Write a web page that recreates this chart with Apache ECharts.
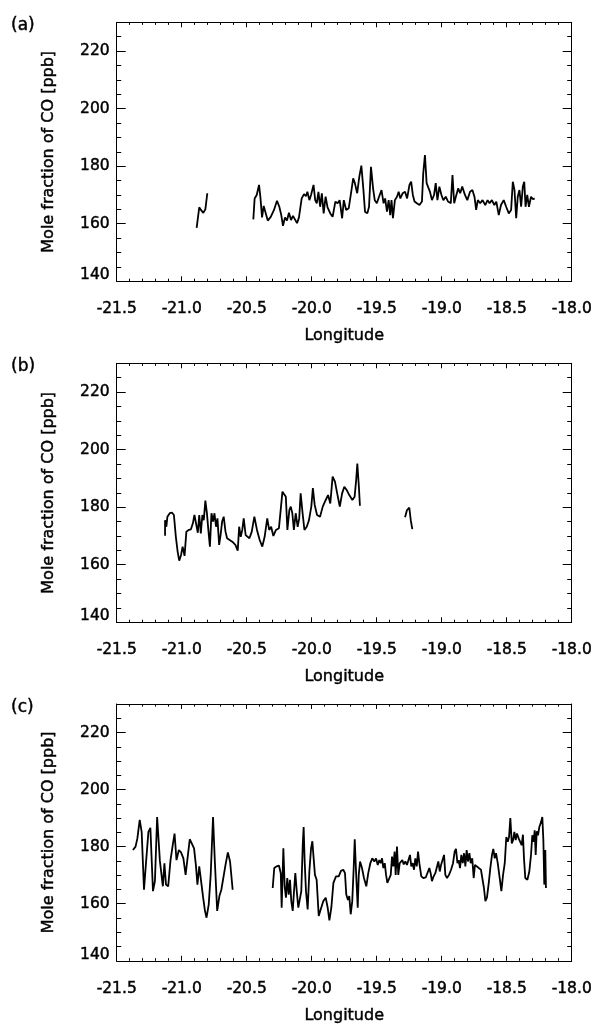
<!DOCTYPE html>
<html>
<head>
<meta charset="utf-8">
<script src="https://cdn.jsdelivr.net/npm/echarts@6/dist/echarts.min.js"></script>
<style>
html,body{margin:0;padding:0;background:#fff;}
#chart{width:595px;height:1025px;}
</style>
</head>
<body>
<div id="chart"></div>
<script>
// ---- data (longitude, CO mole fraction in ppb); null = gap in the record ----
const panelLabels = ['(a)', '(b)', '(c)'];
const xMin = -21.5, xMax = -18.0, xStep = 0.5;
const yMin = 140, yMax = 230, yStep = 20, yMinorStep = 5;
const xTitle = 'Longitude';
const yTitle = 'Mole fraction of CO [ppb]';

const lonA = [-20.885,-20.865,-20.852,-20.834,-20.818,-20.803, -20.60,
 -20.449,-20.439,-20.423,-20.405,-20.395,-20.382,-20.369,-20.357,-20.338,-20.315,-20.290,-20.267,-20.249,-20.234,-20.221,-20.205,-20.190,-20.175,-20.159,-20.144,-20.129,-20.113,-20.098,
 -20.090,-20.077,-20.059,-20.044,-20.033,-20.018,-20.005,-19.986,-19.973,-19.961,-19.948,-19.935,-19.922,-19.908,-19.893,-19.878,-19.857,-19.839,-19.818,-19.801,-19.785,-19.766,-19.753,-19.735,-19.715,-19.696,-19.681,-19.668,-19.650,-19.634,-19.618,-19.603,-19.590,-19.572,-19.559,-19.544,-19.528,-19.515,-19.499,-19.482,-19.463,-19.447,-19.435,-19.421,-19.408,-19.396,-19.386,-19.375,-19.360,-19.344,-19.331,-19.318,-19.300,-19.282,-19.266,-19.248,-19.235,-19.222,-19.209,-19.191,-19.171,-19.152,-19.142,-19.129,-19.116,-19.103,-19.090,-19.075,-19.059,-19.046,-19.033,-19.018,-19.002,-18.987,-18.969,-18.951,-18.930,-18.917,-18.904,-18.891,-18.873,-18.858,-18.842,-18.821,-18.803,-18.782,-18.764,-18.748,-18.735,-18.722,-18.704,-18.686,-18.665,-18.647,-18.632,-18.614,-18.595,-18.580,-18.561,-18.544,-18.523,-18.504,-18.484,-18.466,-18.453,-18.440,-18.427,-18.415,-18.402,-18.389,-18.376,-18.365,-18.355,-18.342,-18.329,-18.313,-18.298,-18.285];
const coA = [158.6,165.7,164.8,163.8,165.0,170.6, null,
 161.5,168.8,170.0,173.5,169.4,162.2,166.2,164.2,161.1,162.4,164.8,168.0,165.9,163.0,159.3,162.2,161.1,163.8,161.3,162.7,161.5,160.2,162.2,
 162.4,168.8,170.3,169.6,171.1,168.2,170.0,173.5,168.2,167.1,171.1,165.9,170.6,163.6,169.4,165.7,163.6,162.4,167.7,167.1,168.2,161.9,168.2,164.8,165.4,171.1,175.8,174.1,170.6,176.3,180.2,172.3,164.2,163.6,165.9,179.8,172.3,168.2,167.1,169.4,171.7,167.1,168.8,164.2,168.2,163.0,168.2,161.9,168.2,169.4,171.1,168.8,170.6,171.1,168.8,173.5,174.6,170.0,167.7,167.1,166.5,167.7,177.5,183.9,174.1,174.6,171.1,168.2,170.0,174.1,168.2,172.9,170.0,168.2,169.4,167.7,167.1,176.9,167.1,169.4,172.3,170.6,172.9,170.0,168.2,171.1,171.7,169.4,164.8,168.2,167.1,168.2,166.5,168.2,167.1,168.2,166.5,167.7,163.0,166.5,168.2,165.9,163.6,164.8,174.6,171.7,161.9,169.4,171.7,165.9,172.9,174.6,165.9,170.0,165.9,169.4,168.5,168.8];

const lonB = [-21.128,-21.128,-21.118,-21.110,-21.092,-21.075,-21.060,-21.045,-21.031,-21.019,-21.005,-20.993,-20.978,-20.964,-20.946,-20.929,-20.914,-20.902,-20.888,-20.876,-20.865,-20.853,-20.841,-20.830,-20.818,-20.806,-20.795,-20.783,-20.771,-20.759,-20.748,-20.736,-20.725,-20.712,-20.701,-20.689,-20.677,-20.663,-20.651,-20.631,-20.611,-20.587,-20.569,-20.558,-20.546,-20.534,-20.523,-20.508,-20.494,-20.479,-20.461,-20.441,-20.421,-20.400,-20.380,-20.362,-20.342,-20.327,-20.312,-20.295,-20.275,-20.252,-20.237,-20.225,-20.210,-20.199,-20.187,-20.172,-20.161,-20.149,-20.137,-20.123,-20.108,-20.096,-20.085,-20.070,-20.056,-20.038,-20.021,-20.003,-19.991,-19.977,-19.959,-19.936,-19.915,-19.892,-19.874,-19.857,-19.839,-19.821,-19.804,-19.784,-19.766,-19.749,-19.731,-19.711,-19.687,-19.670,-19.658,-19.649,-19.637,-19.629, -19.45,
 -19.282,-19.267,-19.249,-19.238,-19.226];
const coB = [170.1,175.5,173.2,176.7,177.9,178.1,177.3,169.7,164.5,161.4,163.4,166.3,163.1,171.5,172.1,172.3,174.4,177.3,176.7,171.1,177.3,170.9,177.3,175.5,182.3,177.9,172.1,166.3,177.9,175.0,177.9,173.2,176.1,166.9,170.3,175.0,176.7,171.5,169.2,168.6,168.0,166.9,164.9,173.2,169.7,172.1,176.1,170.3,170.9,169.2,171.5,176.7,172.1,168.6,166.3,169.7,176.1,172.1,173.2,170.0,172.1,172.7,172.7,185.4,185.7,183.6,172.1,179.0,180.2,177.9,172.1,177.9,173.2,176.1,184.8,177.9,172.1,173.2,175.5,180.2,186.6,180.8,177.3,176.7,180.2,182.5,184.2,181.3,190.6,188.9,184.8,180.2,184.8,187.1,186.0,184.2,182.5,183.6,189.4,195.2,187.1,180.5, null,
 176.5,179.0,179.8,175.5,172.4];

const lonC = [-21.375,-21.355,-21.341,-21.323,-21.308,-21.290,-21.273,-21.256,-21.241,-21.221,-21.206,-21.189,-21.177,-21.168,-21.156,-21.145,-21.133,-21.121,-21.104,-21.086,-21.069,-21.055,-21.040,-21.022,-21.005,-20.987,-20.970,-20.952,-20.938,-20.923,-20.905,-20.891,-20.879,-20.865,-20.850,-20.835,-20.821,-20.809,-20.792,-20.777,-20.759,-20.745,-20.727,-20.710,-20.695,-20.681,-20.663,-20.645,-20.628,-20.608, -20.45,
 -20.300,-20.288,-20.269,-20.252,-20.238,-20.231,-20.218,-20.208,-20.198,-20.188,-20.177,-20.167,-20.157,-20.146,-20.136,-20.126,-20.115,-20.103,-20.090,-20.080,-20.069,-20.062,-20.054,-20.044,-20.031,-20.018,-20.005,-19.995,-19.985,-19.975,-19.962,-19.946,-19.931,-19.911,-19.892,-19.877,-19.864,-19.849,-19.833,-19.813,-19.792,-19.775,-19.757,-19.744,-19.734,-19.721,-19.711,-19.700,-19.688,-19.677,-19.669,-19.659,-19.646,-19.638,-19.628,-19.613,-19.598,-19.580,-19.565,-19.549,-19.534,-19.518,-19.505,-19.492,-19.480,-19.469,-19.459,-19.449,-19.438,-19.428,-19.418,-19.405,-19.392,-19.382,-19.372,-19.362,-19.354,-19.344,-19.334,-19.323,-19.313,-19.303,-19.292,-19.280,-19.267,-19.256,-19.244,-19.234,-19.223,-19.213,-19.203,-19.192,-19.182,-19.172,-19.157,-19.141,-19.123,-19.108,-19.095,-19.085,-19.075,-19.062,-19.049,-19.038,-19.026,-19.015,-19.005,-18.992,-18.982,-18.972,-18.959,-18.944,-18.928,-18.913,-18.900,-18.890,-18.879,-18.869,-18.859,-18.849,-18.838,-18.828,-18.818,-18.808,-18.798,-18.787,-18.777,-18.765,-18.754,-18.744,-18.731,-18.715,-18.698,-18.685,-18.675,-18.664,-18.652,-18.638,-18.626,-18.613,-18.603,-18.592,-18.582,-18.569,-18.557,-18.541,-18.528,-18.515,-18.503,-18.492,-18.482,-18.472,-18.461,-18.451,-18.441,-18.431,-18.421,-18.408,-18.398,-18.385,-18.375,-18.367,-18.357,-18.341,-18.326,-18.313,-18.303,-18.292,-18.285,-18.277,-18.269,-18.259,-18.249,-18.236,-18.226,-18.218,-18.211,-18.203,-18.198];
const coC = [178.8,180.0,182.9,189.4,185.2,164.9,175.3,185.2,186.6,164.4,167.9,190.4,181.7,175.1,175.3,166.1,174.2,166.7,166.1,175.3,180.5,184.6,175.3,178.8,178.0,175.9,170.1,177.1,182.6,182.3,179.4,173.6,166.7,173.1,173.6,162.1,157.5,155.1,159.8,170.1,190.4,174.8,157.5,162.7,164.9,164.4,173.6,178.0,174.8,164.9, null,
 165.5,172.5,173.1,173.4,170.7,158.6,179.4,166.1,162.1,169.0,163.2,168.4,160.9,157.5,164.4,170.7,164.4,158.6,159.2,164.4,180.5,186.9,174.8,164.4,158.0,171.3,179.4,181.9,175.9,170.1,168.4,155.7,158.0,160.9,162.1,158.6,154.2,158.6,167.3,169.6,169.6,171.5,171.9,170.7,163.2,161.3,162.7,156.3,160.9,172.5,182.6,171.3,158.6,170.1,174.8,172.5,169.0,166.1,170.7,174.2,175.9,174.8,175.9,173.6,175.3,174.2,175.9,172.5,174.2,170.1,167.3,167.9,170.1,176.5,173.1,178.3,170.1,180.0,170.1,174.2,173.6,175.3,173.8,174.8,173.6,174.2,177.1,173.1,174.2,171.9,175.9,173.1,178.3,174.2,169.6,169.0,169.2,169.6,172.5,170.7,167.9,169.6,170.7,170.1,174.8,171.3,173.6,173.1,177.1,170.1,169.0,170.1,171.9,174.2,178.3,179.2,174.2,175.3,172.5,177.1,174.2,177.7,173.1,178.8,174.8,177.7,174.2,175.9,169.0,173.6,173.1,172.5,171.9,171.3,165.5,160.9,162.1,167.3,172.5,177.1,179.2,175.9,177.7,174.2,170.1,164.4,170.1,174.2,183.4,181.7,183.4,190.0,181.1,182.3,185.2,182.3,184.6,182.9,182.3,180.5,184.2,175.9,169.0,168.4,171.3,177.1,184.0,181.7,185.7,177.1,185.4,184.0,186.9,188.6,190.4,182.3,166.7,178.8,165.5];

const panels = [[lonA, coA], [lonB, coB], [lonC, coC]];

// ---- layout ----
const FONT = 'DejaVu Sans';
const gridLeft = 116.7, gridWidth = 455, gridHeight = 259;
const gridTops = [22.3, 363.3, 704];

const grids = [], xAxes = [], yAxes = [], series = [], titles = [];
const black = '#000';
const heavy = {textBorderColor: black, textBorderWidth: 0.45};

gridTops.forEach((top, i) => {
  grids.push({left: gridLeft, top: top, width: gridWidth, height: gridHeight, containLabel: false});
  titles.push({text: panelLabels[i], left: 11, top: top - 5, padding: 0,
    textStyle: Object.assign({fontFamily: FONT, fontSize: 17, fontWeight: 'normal', color: black}, heavy)});
  const xBase = {gridIndex: i, type: 'value', min: xMin, max: xMax, interval: xStep,
    splitLine: {show: false},
    axisLine: {show: true, onZero: false, lineStyle: {color: black, width: 1}},
    axisTick: {show: true, inside: true, length: 5, lineStyle: {color: black, width: 1}},
    minorTick: {show: true, splitNumber: 5, length: 2.6, lineStyle: {color: black, width: 1}}};
  const xb = xAxes.length;
  xAxes.push(Object.assign({}, xBase, {position: 'bottom',
    name: xTitle, nameLocation: 'middle', nameGap: 47,
    nameTextStyle: Object.assign({fontFamily: FONT, fontSize: 16, color: black}, heavy),
    axisLabel: Object.assign({show: true, margin: 20, fontFamily: FONT, fontSize: 15.5, color: black,
      formatter: v => v.toFixed(1)}, heavy)}));
  xAxes.push(Object.assign({}, xBase, {position: 'top', axisLabel: {show: false}}));

  const yb = yAxes.length;
  const yMajor = {gridIndex: i, type: 'value', min: yMin, max: yMax, interval: yStep,
    splitLine: {show: false},
    axisLine: {show: true, onZero: false, lineStyle: {color: black, width: 1}},
    axisTick: {show: true, inside: true, length: 9, lineStyle: {color: black, width: 1}}};
  const yMinor = {gridIndex: i, type: 'value', min: yMin, max: yMax, interval: yMinorStep,
    splitLine: {show: false}, axisLine: {show: false}, axisLabel: {show: false},
    axisTick: {show: true, inside: true, length: 4.5, lineStyle: {color: black, width: 1}}};
  yAxes.push(Object.assign({}, yMajor, {position: 'left',
    name: yTitle, nameLocation: 'middle', nameGap: 60, nameRotate: 90,
    nameTextStyle: Object.assign({fontFamily: FONT, fontSize: 16, color: black}, heavy),
    axisLabel: Object.assign({show: true, margin: 7, fontFamily: FONT, fontSize: 15.5, color: black,
      formatter: v => (v % 20 === 0 ? (v === yMin ? '{lo|' + v + '}' : String(v)) : ''),
      rich: {lo: Object.assign({fontFamily: FONT, fontSize: 15.5, color: black, padding: [0, 0, 12, 0]}, heavy)}}, heavy)}));
  yAxes.push(Object.assign({}, yMajor, {position: 'right', axisLabel: {show: false}}));
  yAxes.push(Object.assign({}, yMinor, {position: 'left'}));
  yAxes.push(Object.assign({}, yMinor, {position: 'right'}));

  const [lons, cos] = panels[i];
  series.push({type: 'line', xAxisIndex: xb, yAxisIndex: yb,
    data: lons.map((x, k) => [x, cos[k]]),
    showSymbol: false, symbol: 'none', connectNulls: false, smooth: false,
    lineStyle: {color: black, width: 1.8}, animation: false, silent: true});
});

const chart = echarts.init(document.getElementById('chart'), null, {renderer: 'canvas'});
chart.setOption({
  backgroundColor: '#fff',
  animation: false,
  title: titles,
  grid: grids,
  xAxis: xAxes,
  yAxis: yAxes,
  series: series
});
</script>
</body>
</html>
